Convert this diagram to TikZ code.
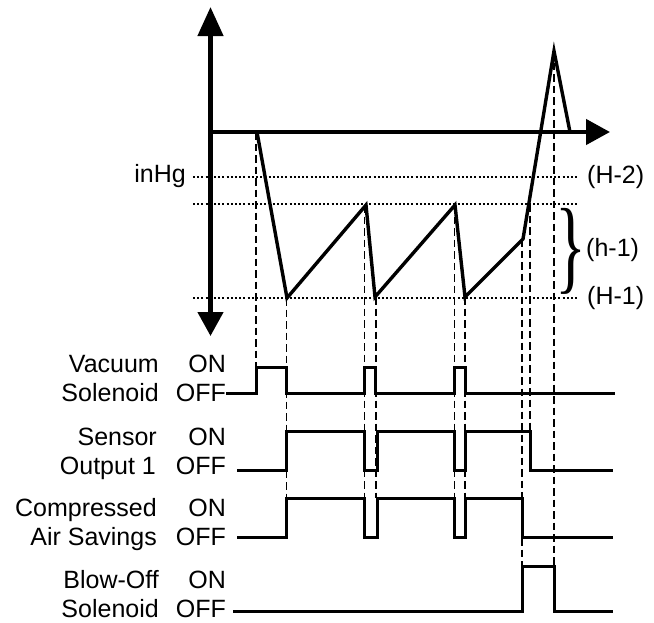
\documentclass[tikz,border=0pt]{standalone}
\usepackage{fontspec}
\setmainfont{Liberation Sans}
\newfontfamily\bracefont{Liberation Serif}
\usetikzlibrary{arrows.meta}

\begin{document}
\begin{tikzpicture}[x=1pt, y=-1pt,
  axis/.style={line width=4.5pt},
  curve/.style={line width=3.4pt, line join=miter},
  wave/.style={line width=3pt, line join=miter},
  level/.style={line width=2pt, dash pattern=on 2pt off 2.2pt},
  guide/.style={line width=1.5pt, dash pattern=on 7.5pt off 4pt},
  lbl/.style={inner sep=0pt, font=\fontsize{25}{29}\selectfont}
]
  \useasboundingbox (0,0) rectangle (654,622);

  % threshold levels
  \draw[level] (193,177) -- (578,177);
  \draw[level] (193,204) -- (578,204);
  \draw[level] (193,298) -- (578,298);
  \node[lbl, anchor=east] (inhg) at (186,176) {inHg};
  \node[lbl, anchor=west] (h2) at (587,177) {(H-2)};
  \node[lbl, anchor=west] (hh1) at (586,250) {(h-1)};
  \node[lbl, anchor=west] (h1) at (587,298) {(H-1)};
  \node[inner sep=0pt] (brace) at (571,251)
    {\scalebox{0.62}[1]{\resizebox*{!}{86pt}{\bracefont\}}}};

  % event guides
  \draw[guide] (256,132) -- (256,367);
  \draw[guide] (286.5,298) -- (286.5,498);
  \draw[guide] (364.5,205) -- (364.5,498);
  \draw[guide] (376,297) -- (376,498);
  \draw[guide] (454.5,205) -- (454.5,498);
  \draw[guide] (465,297) -- (465,498);
  \draw[guide] (522,239) -- (522,566);
  \draw[guide] (530,204) -- (530,431);
  \draw[guide] (554,51) -- (554,566);

  % axes
  \draw[axis, {Triangle[length=24pt, width=25pt]}-{Triangle[length=29pt, width=25pt]}]
    (210.5,336) -- (210.5,7);
  \draw[axis, -{Triangle[length=24pt, width=25pt]}] (208.5,132) -- (610,132);

  % vacuum level
  \draw[curve] (257,132) -- (287,298) -- (366,205) -- (375,297) -- (455,205)
    -- (465,297) -- (523,239) -- (554,51) -- (570,132);

  % signal labels
  \node[lbl, anchor=base east] (vs1) at (159,372.7) {Vacuum};
  \node[lbl, anchor=base east] (vs2) at (159,401.7) {Solenoid};
  \node[lbl, anchor=base east] (vson) at (226,372.7) {ON};
  \node[lbl, anchor=base east] (vsoff) at (226,401.7) {OFF};

  \node[lbl, anchor=base east] (so1) at (157,445) {Sensor};
  \node[lbl, anchor=base east] (so2) at (156,474) {Output 1};
  \node[lbl, anchor=base east] (soon) at (226,445) {ON};
  \node[lbl, anchor=base east] (sooff) at (226,474) {OFF};

  \node[lbl, anchor=base east] (ca1) at (157,516.7) {Compressed};
  \node[lbl, anchor=base east] (ca2) at (157,545.5) {Air Savings};
  \node[lbl, anchor=base east] (caon) at (226,516.7) {ON};
  \node[lbl, anchor=base east] (caoff) at (226,545.5) {OFF};

  \node[lbl, anchor=base east] (bo1) at (159,588.5) {Blow-Off};
  \node[lbl, anchor=base east] (bo2) at (159,617) {Solenoid};
  \node[lbl, anchor=base east] (boon) at (226,588.5) {ON};
  \node[lbl, anchor=base east] (booff) at (226,617) {OFF};

  % signals
  \draw[wave] (vsoff.east |- 0,393) -- (256,393) -- (256,367) -- (286.5,367) -- (286.5,393)
    -- (364.5,393) -- (364.5,367) -- (375.5,367) -- (375.5,393) -- (454.5,393)
    -- (454.5,367) -- (465,367) -- (465,393) -- (615,393);
  \draw[wave] (237,470) -- (286.5,470) -- (286.5,431) -- (364.5,431) -- (364.5,470)
    -- (377,470) -- (377,431) -- (454.5,431) -- (454.5,470) -- (465,470)
    -- (465,431) -- (530,431) -- (530,470) -- (613,470);
  \draw[wave] (237,537) -- (286.5,537) -- (286.5,498) -- (364.5,498) -- (364.5,537)
    -- (377,537) -- (377,498) -- (454.5,498) -- (454.5,537) -- (465,537)
    -- (465,498) -- (522,498) -- (522,537) -- (613,537);
  \draw[wave] (233,611) -- (522,611) -- (522,566) -- (554,566) -- (554,611) -- (613,611);
\end{tikzpicture}
\end{document}
